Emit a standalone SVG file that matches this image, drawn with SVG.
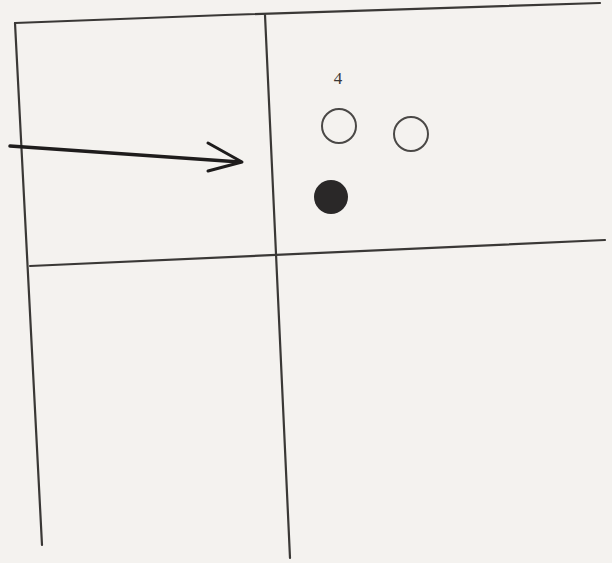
<svg xmlns="http://www.w3.org/2000/svg" width="612" height="563" viewBox="0 0 612 563">
<style>
.ln{stroke:#3a3836;stroke-width:2.2;fill:none;stroke-linecap:round}
.ar{stroke:#1e1c1c;stroke-width:3.5;fill:none;stroke-linecap:round;stroke-linejoin:round}
.oc{stroke:#4a4846;stroke-width:2;fill:none}
.fc{fill:#2a2828}
.t{font-family:"Liberation Serif",serif;font-size:17px;fill:#3a3836}
</style>
<rect width="612" height="563" fill="#f4f2ef"/>
<g id="connectors">
<path class="ln" d="M15,23 L225,15 L600,3"/>
<path class="ln" d="M15,23 L42,545"/>
<path class="ln" d="M265,15 L290,558"/>
<path class="ln" d="M30,266 L605,240"/>
<path class="ar" d="M10,146 L240,162"/>
<path class="ar" style="stroke-width:3" d="M208,143 L242,162 L208,171"/>
</g>
<g id="label4"><text class="t" x="338" y="84" text-anchor="middle">4</text></g>
<g id="c1"><circle class="oc" cx="339" cy="126" r="17"/></g>
<g id="c2"><circle class="oc" cx="411" cy="134" r="17"/></g>
<g id="c3"><circle class="fc" cx="331" cy="197" r="17"/></g>
</svg>
